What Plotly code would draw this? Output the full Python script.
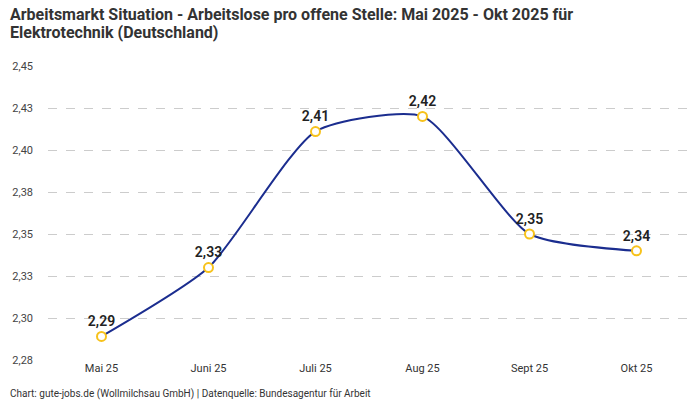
import plotly.graph_objects as go

# Data
monate = ["Mai 25", "Juni 25", "Juli 25", "Aug 25", "Sept 25", "Okt 25"]
werte = [2.289, 2.330, 2.411, 2.420, 2.350, 2.340]
beschriftung = ["2,29", "2,33", "2,41", "2,42", "2,35", "2,34"]

y_ticks = [2.275, 2.30, 2.325, 2.35, 2.375, 2.40, 2.425, 2.45]
y_labels = ["2,28", "2,30", "2,33", "2,35", "2,38", "2,40", "2,43", "2,45"]

titel_1 = "Arbeitsmarkt Situation - Arbeitslose pro offene Stelle: Mai 2025 - Okt 2025 für"
titel_2 = "Elektrotechnik (Deutschland)"
quelle = "Chart: gute-jobs.de (Wollmilchsau GmbH) | Datenquelle: Bundesagentur für Arbeit"

fnt = "Roboto"

fig = go.Figure()

fig.add_trace(go.Scatter(
    x=monate,
    y=werte,
    mode="lines+markers+text",
    line=dict(color="#1b2d8f", width=2, shape="spline", smoothing=0.6),
    marker=dict(size=9, color="white", line=dict(color="#f7c21b", width=2)),
    text=beschriftung,
    textposition="top center",
    textfont=dict(family=fnt, size=14, color="#222222", weight=600),
    cliponaxis=False,
    hoverinfo="x+y",
))

# the page shows the figure offset by 8px, so margins are shifted accordingly
L, R, T, B = 40, 18, 58, 48
pw, ph = 700 - L - R, 400 - T - B

def px_x(x):
    return (x - 8 - L) / pw

def px_y(y):
    return (400 - B - (y - 8)) / ph

fig.update_layout(
    width=700,
    height=400,
    margin=dict(l=L, r=R, t=T, b=B),
    paper_bgcolor="white",
    plot_bgcolor="white",
    showlegend=False,
    font=dict(family=fnt, size=11, color="#444444"),
    xaxis=dict(
        type="category",
        range=[-0.5, 5.5],
        showgrid=False,
        zeroline=False,
        showline=False,
        ticks="",
        automargin=False,
        tickfont=dict(size=11, color="#333333"),
    ),
    yaxis=dict(
        range=[2.275, 2.45],
        tickvals=y_ticks,
        ticktext=y_labels,
        showgrid=True,
        gridcolor="#cccccc",
        griddash="dash",
        gridwidth=1,
        zeroline=False,
        showline=False,
        ticks="",
        automargin=False,
        ticklabelstandoff=14,
        tickfont=dict(size=11, color="#444444"),
    ),
    annotations=[
        dict(
            text="<b>" + titel_1 + "</b>",
            xref="paper", yref="paper",
            x=px_x(8), y=px_y(15),
            xanchor="left", yanchor="middle", align="left",
            showarrow=False,
            font=dict(family=fnt, size=16, color="#333333"),
        ),
        dict(
            text="<b>" + titel_2 + "</b>",
            xref="paper", yref="paper",
            x=px_x(8), y=px_y(33),
            xanchor="left", yanchor="middle", align="left",
            showarrow=False,
            font=dict(family=fnt, size=16, color="#333333"),
        ),
        dict(
            text=quelle,
            xref="paper", yref="paper",
            x=px_x(8), y=px_y(394),
            xanchor="left", yanchor="middle",
            showarrow=False,
            font=dict(family=fnt, size=10, color="#333333"),
        ),
    ],
)

fig.write_html("out.html")
